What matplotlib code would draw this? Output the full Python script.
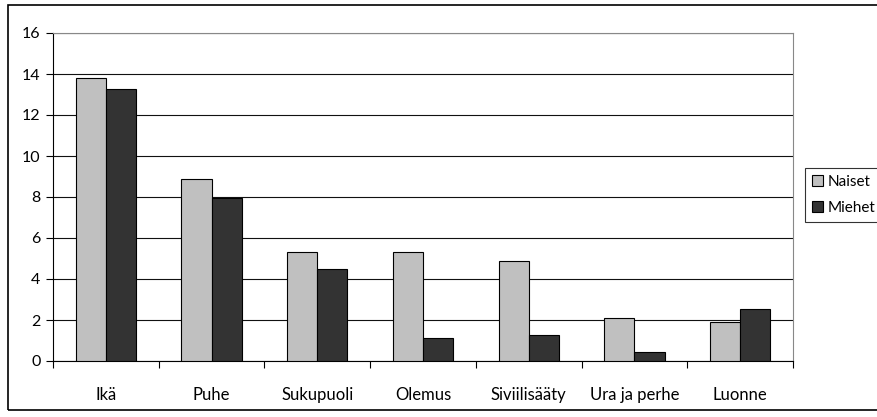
import matplotlib
matplotlib.use("Agg")
import matplotlib.pyplot as plt
import numpy as np
from matplotlib.patches import Rectangle

categories = ["Ikä", "Puhe", "Sukupuoli", "Olemus", "Siviilisääty", "Ura ja perhe", "Luonne"]
naiset = [13.8, 8.9, 5.3, 5.3, 4.9, 2.1, 1.9]
miehet = [13.25, 7.95, 4.48, 1.12, 1.25, 0.43, 2.55]
series_names = ["Naiset", "Miehet"]
yticks = [0, 2, 4, 6, 8, 10, 12, 14, 16]

plt.rcParams['font.family'] = ['Lato', 'DejaVu Sans']

fig = plt.figure(figsize=(8.78, 4.17), dpi=100)
W, H = 878, 417
ax = fig.add_axes([53 / W, 1 - 361 / H, (793 - 53) / W, (361 - 33) / H])

x = np.arange(len(categories))
bw = 1 / 3.5
ax.bar(x - bw / 2, naiset, bw, color="#C0C0C0", edgecolor="black", linewidth=0.8, label=series_names[0], zorder=3)
ax.bar(x + bw / 2, miehet, bw, color="#333333", edgecolor="black", linewidth=0.8, label=series_names[1], zorder=3)

ax.set_xlim(-0.5, len(categories) - 0.5)
ax.set_ylim(0, 16)
ax.set_yticks(yticks)
ax.set_yticklabels([str(v) for v in yticks], fontsize=11.5)
ax.yaxis.grid(True, color="#111111", linewidth=0.8, zorder=0)
ax.set_axisbelow(True)

ax.set_xticks(x)
ax.set_xticklabels(categories, fontsize=12)
ax.tick_params(axis='x', length=0, pad=19)
ax.set_xticks(np.arange(-0.5, len(categories) + 0.5, 1), minor=True)
ax.tick_params(axis='x', which='minor', length=5, width=0.8, color='black', direction='out')
ax.tick_params(axis='y', length=5, width=0.8, direction='out', pad=4)

for s in ['top', 'right']:
    ax.spines[s].set_color('#888888')
    ax.spines[s].set_linewidth(0.8)
for s in ['left', 'bottom']:
    ax.spines[s].set_color('black')
    ax.spines[s].set_linewidth(0.8)

leg = fig.legend(loc='upper left', bbox_to_anchor=(805 / W, 1 - 168 / H), fontsize=11,
                 frameon=True, fancybox=False, edgecolor='black', handlelength=0.7,
                 handleheight=0.7, handletextpad=0.3, borderpad=0.45, labelspacing=0.8,
                 borderaxespad=0)
leg.get_frame().set_linewidth(0.8)

border = Rectangle((8 / W, 1 - 410 / H), (890 - 8) / W, (410 - 5) / H, transform=fig.transFigure,
                   fill=False, edgecolor='black', linewidth=1.2, clip_on=False)
fig.patches.append(border)

fig.savefig("out.png", dpi=100)
